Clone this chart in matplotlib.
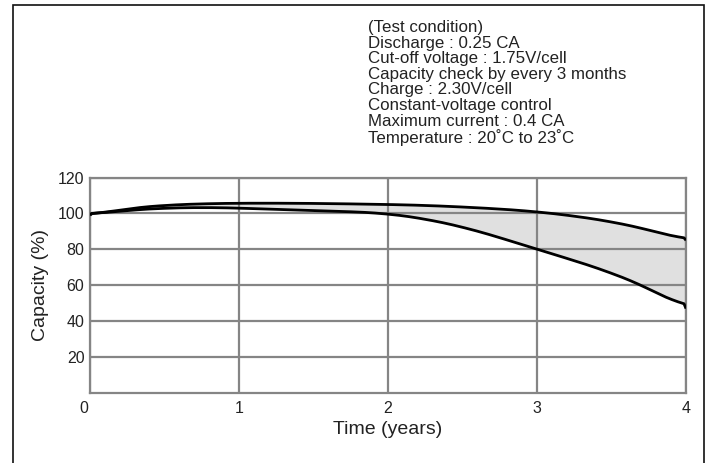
import numpy as np
import matplotlib
matplotlib.use("Agg")
import matplotlib.pyplot as plt
from matplotlib.patches import Rectangle
import matplotlib.transforms as mtransforms

plt.rcParams['font.family'] = ['Liberation Sans', 'DejaVu Sans']

years = [0, 0.25, 0.5, 0.75, 1.0, 1.25, 1.5, 1.75, 2.0, 2.25, 2.5, 2.75, 3.0, 3.25, 3.5, 3.75, 4.0]
upper = [99.0, 102.8, 104.6, 105.4, 105.7, 105.7, 105.6, 105.3, 105.0, 104.5, 103.6, 102.5, 101.0, 98.6, 95.5, 91.0, 85.0]
lower = [99.5, 101.8, 103.0, 103.4, 103.0, 102.2, 101.6, 101.0, 100.0, 97.0, 92.6, 86.6, 80.0, 73.8, 67.0, 58.5, 47.0]

xticks = [0, 1, 2, 3, 4]
yticks = [20, 40, 60, 80, 100, 120]

conditions = ["(Test condition)",
              "Discharge : 0.25 CA",
              "Cut-off voltage : 1.75V/cell",
              "Capacity check by every 3 months",
              "Charge : 2.30V/cell",
              "Constant-voltage control",
              "Maximum current : 0.4 CA",
              "Temperature : 20˚C to 23˚C"]

W, H = 711, 463
fig = plt.figure(figsize=(W/100, H/100), dpi=100)

# outer frame
fig.patches.append(Rectangle((13/W, -0.1), (704-13)/W, 1.1 - 5/H, transform=fig.transFigure,
                             fill=False, edgecolor='#111111', linewidth=1.2))

ax = fig.add_axes([90/W, (H-393)/H, (686-90)/W, (393-177.5)/H])

xs = np.linspace(0, 4, 300)
up_s = np.interp(xs, years, upper)
lo_s = np.interp(xs, years, lower)
def smooth(y, k=15):
    pad = np.pad(y, k, mode='edge')
    kern = np.ones(2*k+1)/(2*k+1)
    return np.convolve(pad, kern, mode='valid')
up_s = smooth(up_s)
lo_s = smooth(lo_s)
up_s[0], lo_s[0] = upper[0], lower[0]
up_s[-1], lo_s[-1] = upper[-1], lower[-1]

ax.fill_between(xs, lo_s, up_s, color='#e0e0e0', zorder=1, linewidth=0)
ax.set_xlim(0, 4)
ax.set_ylim(0, 120)
ax.set_xticks(xticks)
ax.set_yticks(yticks)
ax.grid(True, color='#858585', linewidth=1.6, zorder=2)
ax.set_axisbelow(False)
for sp in ax.spines.values():
    sp.set_color('#858585')
    sp.set_linewidth(1.6)
    sp.set_zorder(2)
ax.plot(xs, up_s, color='black', linewidth=2.0, zorder=3, solid_capstyle='butt')
ax.plot(xs, lo_s, color='black', linewidth=2.0, zorder=3, solid_capstyle='butt')

ax.tick_params(length=0, labelsize=11.5, colors='#222222')
ax.tick_params(axis='y', pad=4)
ax.tick_params(axis='x', pad=6)
lbl0 = ax.get_xticklabels()[0]
lbl0.set_transform(lbl0.get_transform() + mtransforms.ScaledTranslation(-6/100, 0, fig.dpi_scale_trans))

ax.set_xlabel("Time (years)", fontsize=14, color='#222222', labelpad=3)
ax.set_ylabel("Capacity (%)", fontsize=14, color='#222222', labelpad=6)

fig.text(368/W, 1 - 20/H, "\n".join(conditions), ha='left', va='top', fontsize=12.2,
         color='#222222', linespacing=1.05)

fig.savefig("out.png", dpi=100)
